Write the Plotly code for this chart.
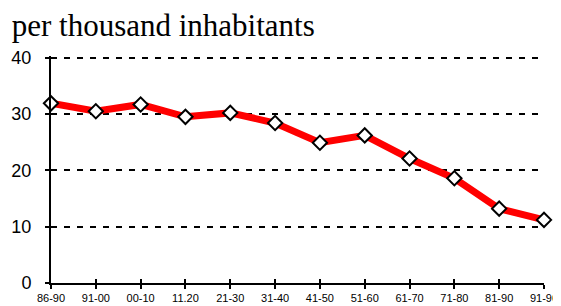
import plotly.graph_objects as go

periods = ["86-90", "91-00", "00-10", "11.20", "21-30", "31-40",
           "41-50", "51-60", "61-70", "71-80", "81-90", "91-96"]
rate = [31.9, 30.5, 31.7, 29.5, 30.2, 28.4, 24.9, 26.2, 22.1, 18.6, 13.2, 11.2]
y_ticks = [0, 10, 20, 30, 40]
title_text = "per thousand inhabitants"

fig = go.Figure()
fig.add_trace(go.Scatter(
    x=periods, y=rate, mode="lines+markers",
    line=dict(color="#ff0000", width=7),
    marker=dict(symbol="diamond", size=11, color="white",
                line=dict(color="black", width=2)),
    cliponaxis=False, showlegend=False, xaxis="x", yaxis="y"))
# invisible traces for overlay axes (visible tick marks)
for ya in ["y2", "y3"]:
    fig.add_trace(go.Scatter(x=periods, y=rate, mode="lines",
                             line=dict(width=0), opacity=0, showlegend=False,
                             hoverinfo="skip", xaxis="x2", yaxis=ya))

yr = [0, 40.3]
tick_common = dict(range=yr, tickvals=y_ticks, overlaying="y",
                   showticklabels=False, tickwidth=2, tickcolor="black",
                   showgrid=False, showline=False, zeroline=False,
                   automargin=False)
fig.update_layout(
    width=553, height=298,
    margin=dict(l=43, r=17, t=48, b=23, autoexpand=False),
    plot_bgcolor="white", paper_bgcolor="white",
    font=dict(family="Arial, Liberation Sans", color="black"),
    title=dict(text=title_text, xref="container", yref="container",
               x=3.7 / 553, xanchor="left", y=0.9785, yanchor="top",
               pad=dict(t=0, b=0, l=0, r=0),
               font=dict(family="Liberation Serif, Times New Roman",
                         size=31, color="black")),
    xaxis=dict(type="category", range=[0, 11], showgrid=False,
               showline=True, linecolor="black", linewidth=2,
               ticks="outside", ticklen=4, tickwidth=2, tickcolor="black",
               tickfont=dict(size=11), zeroline=False, automargin=False),
    yaxis=dict(range=yr, tickvals=y_ticks, showline=True,
               linecolor="black", linewidth=2, ticks="outside", ticklen=14,
               tickwidth=2, tickcolor="rgba(0,0,0,0)", tickfont=dict(size=18),
               showgrid=True, gridcolor="black", gridwidth=2,
               griddash="6px,7px", zeroline=False, automargin=False),
    xaxis2=dict(type="category", range=[0, 11], overlaying="x",
                showticklabels=False, ticks="inside", ticklen=4,
                tickwidth=2, tickcolor="black", showgrid=False,
                showline=False, zeroline=False, categoryorder="array",
                categoryarray=periods, automargin=False),
    yaxis2=dict(ticks="inside", ticklen=4, **tick_common),
    yaxis3=dict(ticks="outside", ticklen=5, **tick_common),
)
fig.write_html("out.html")
